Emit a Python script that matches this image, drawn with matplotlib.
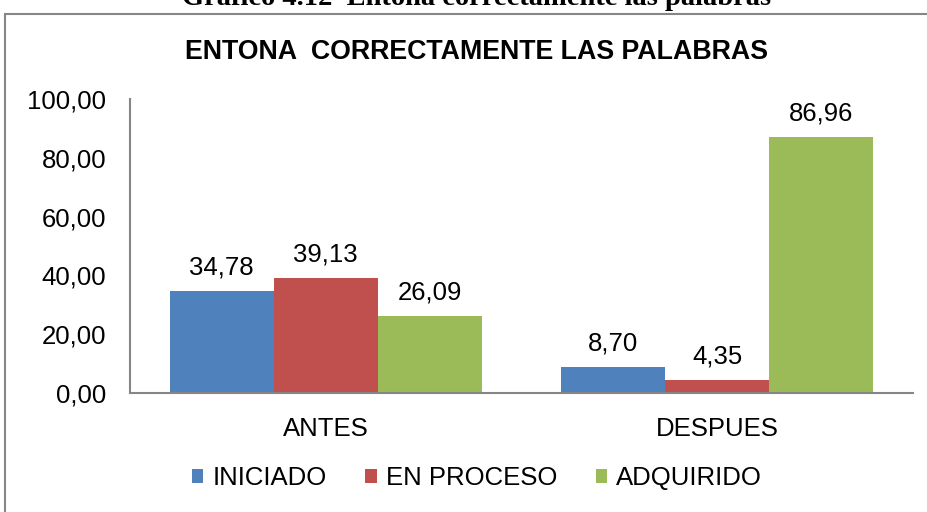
import matplotlib
matplotlib.use("Agg")
import matplotlib.pyplot as plt
import numpy as np
from matplotlib.patches import Rectangle

categories = ["ANTES", "DESPUES"]
series_names = ["INICIADO", "EN PROCESO", "ADQUIRIDO"]
iniciado = [34.78, 8.70]
en_proceso = [39.13, 4.35]
adquirido = [26.09, 86.96]
colors = ["#4F81BD", "#C0504D", "#9BBB59"]
yticks = [0, 20, 40, 60, 80, 100]

plt.rcParams["font.family"] = ["Liberation Sans", "DejaVu Sans"]

fig = plt.figure(figsize=(9.28, 5.12), dpi=100)
W, H = 928, 512

# outer chart border
fig.patches.append(Rectangle((5 / W, -0.1), 1.1, 1 - 14 / H + 0.1, transform=fig.transFigure,
                             fill=False, edgecolor="#868686", linewidth=1.5))

# cut-off caption at the top (only its lower part is visible in the original)
fig.text(477 / W, 1 - 5 / H, "Gráfico 4.12  Entona correctamente las palabras",
         ha="center", va="baseline", fontsize=20.5, fontweight="bold",
         family=["Liberation Serif", "DejaVu Serif"])

ax = fig.add_axes([130 / W, 1 - 393 / H, 783 / W, 294 / H])
x = np.arange(len(categories))
bw = 104 / 391
for i, (vals, c, name) in enumerate(zip([iniciado, en_proceso, adquirido], colors, series_names)):
    bars = ax.bar(x + (i - 1) * bw, vals, bw, color=c, label=name, zorder=2)
    for b, v in zip(bars, vals):
        ax.annotate(f"{v:.2f}".replace(".", ","), (b.get_x() + b.get_width() / 2, v),
                    xytext=(0, 12), textcoords="offset points", ha="center", va="baseline",
                    fontsize=18.5)

ax.set_xlim(-0.5, 1.5)
ax.set_ylim(0, 100)
ax.set_yticks(yticks)
ax.set_yticklabels([f"{t:.2f}".replace(".", ",") for t in yticks], fontsize=18.5)
ax.set_xticks(x)
ax.set_xticklabels(categories, fontsize=18.5)
ax.tick_params(axis="both", length=0)
ax.tick_params(axis="y", pad=17)
ax.tick_params(axis="x", pad=17)
for s in ["top", "right"]:
    ax.spines[s].set_visible(False)
for s in ["left", "bottom"]:
    ax.spines[s].set_color("#868686")
    ax.spines[s].set_linewidth(1.5)

fig.text(477 / W, 1 - 52 / H, "ENTONA  CORRECTAMENTE LAS PALABRAS", ha="center", va="center",
         fontsize=19.3, fontweight="bold")

leg = fig.legend(loc="center", bbox_to_anchor=(477 / W, 1 - 478 / H), ncol=3, frameon=False,
                 fontsize=18.5, handlelength=0.45, handleheight=0.45, handletextpad=0.35,
                 columnspacing=1.5)

fig.savefig("out.png", dpi=100)
